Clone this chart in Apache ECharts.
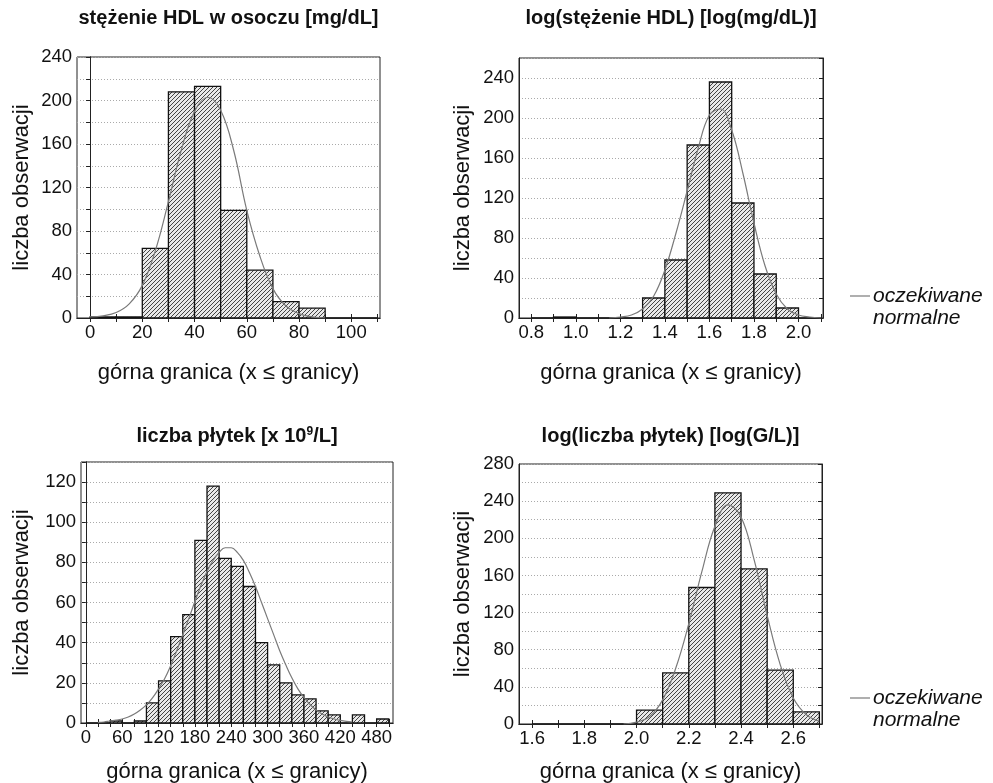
<!DOCTYPE html>
<html><head><meta charset="utf-8">
<script src="https://cdn.jsdelivr.net/npm/echarts@6/dist/echarts.min.js"></script>
<style>html,body{margin:0;padding:0;background:#fff}#c{width:993px;height:783px}</style>
</head><body><div id="c"></div><script>
// ---------- data ----------
// Panel 1: stężenie HDL
const hdlBinStart = [0,10,20,30,40,50,60,70,80,90,100];
const hdlBinWidth = 10;
const hdlCounts = [1,1,64,208,213,99,44,15,9,0,0];
const hdlCurveX = [0,5,10,15,20,25,30,35,40,45,50,55,60,65,70,75,80,85,90];
const hdlCurveY = [1,2,5,13,30,62,107,155,190,203,191,154,99,57,27,11,4,1,0];
const hdlXLabels = [0,20,40,60,80,100];
const hdlXTicks = [0,10,20,30,40,50,60,70,80,90,100,110];
const hdlYLabels = [0,40,80,120,160,200,240];

// Panel 2: log(stężenie HDL)
const lhdlBinStart = [0.8,0.9,1.0,1.1,1.2,1.3,1.4,1.5,1.6,1.7,1.8,1.9,2.0];
const lhdlBinWidth = 0.1;
const lhdlCounts = [0,1,0,0,0,20,58,173,236,115,44,10,0];
const lhdlCurveX = [1.15,1.2,1.25,1.3,1.35,1.4,1.45,1.5,1.55,1.6,1.65,1.7,1.75,1.8,1.85,1.9,1.95,2.0,2.05,2.1];
const lhdlCurveY = [0,1,3,9,22,48,85,127,170,203,209,188,145,95,52,24,9,3,1,0];
const lhdlXLabels = [0.8,1.0,1.2,1.4,1.6,1.8,2.0];
const lhdlXTicks = [0.8,0.9,1.0,1.1,1.2,1.3,1.4,1.5,1.6,1.7,1.8,1.9,2.0,2.1];
const lhdlYLabels = [0,40,80,120,160,200,240];

// Panel 3: liczba płytek
const pltBinStart = [0,20,40,60,80,100,120,140,160,180,200,220,240,260,280,300,320,340,360,380,400,420,440,460,480];
const pltBinWidth = 20;
const pltCounts = [0,0,1,0,1,10,21,43,54,91,118,82,78,68,40,29,20,14,12,6,4,0,4,0,2];
const pltCurveX = [20,30,40,50,60,70,80,90,100,110,120,130,140,150,160,170,180,190,200,210,220,230,240,250,260,270,280,290,300,310,320,330,340,350,360,370,380,390,400,410,420,430,440];
const pltCurveY = [0.3,0.5,1,1.4,2,3,4.5,6.5,9,12.5,17,22,28.5,36,44,52,60.5,68.5,75.5,81,85,87.3,87.3,85,81,75,68,60,52,44,36,29,22.5,17,12.7,9.2,6.5,4.5,3,2,1.3,0.8,0.5];
const pltXLabels = [0,60,120,180,240,300,360,420,480];
const pltXTicks = [0,20,40,60,80,100,120,140,160,180,200,220,240,260,280,300,320,340,360,380,400,420,440,460,480,500];
const pltYLabels = [0,20,40,60,80,100,120];

// Panel 4: log(liczba płytek)
const lpltBinStart = [1.6,1.7,1.8,1.9,2.0,2.1,2.2,2.3,2.4,2.5,2.6];
const lpltBinWidth = 0.1;
const lpltCounts = [0,0,0,0,15,55,147,249,167,58,13];
const lpltCurveX = [1.95,2.0,2.05,2.1,2.15,2.2,2.25,2.3,2.35,2.4,2.45,2.5,2.55,2.6,2.65,2.7];
const lpltCurveY = [0,2,8,26,60,108,164,213,236,223,177,117,64,28,10,3];
const lpltXLabels = [1.6,1.8,2.0,2.2,2.4,2.6];
const lpltXTicks = [1.6,1.7,1.8,1.9,2.0,2.1,2.2,2.3,2.4,2.5,2.6,2.7];
const lpltYLabels = [0,40,80,120,160,200,240,280];

const titles = ['stężenie HDL w osoczu [mg/dL]','log(stężenie HDL) [log(mg/dL)]','liczba płytek [x 10{s|9}/L]','log(liczba płytek) [log(G/L)]'];
const xName = 'górna granica (x ≤ granicy)';
const yName = 'liczba obserwacji';
const legendLines = ['oczekiwane','normalne'];

// ---------- styling / layout ----------
const FONT = '"Liberation Sans", Arial, sans-serif';
const hatchCanvas = document.createElement('canvas');
hatchCanvas.width = 4; hatchCanvas.height = 4;
(function(){
  const c = hatchCanvas.getContext('2d');
  c.fillStyle = '#e8e8e8'; c.fillRect(0,0,4,4);
  c.fillStyle = '#444';
  for (let i = 0; i < 4; i++) c.fillRect(i, 3 - i, 1, 1);
})();
const hatch = {image: hatchCanvas, repeat: 'repeat'};

const panels = [
  {grid:{left:77,top:57,width:303,height:261}, xmin:-5, xmax:111, ymax:240, yint:20,
   starts:hdlBinStart, bw:hdlBinWidth, counts:hdlCounts, cx:hdlCurveX, cy:hdlCurveY,
   xl:hdlXLabels, xt:hdlXTicks, yl:hdlYLabels, fmt:v=>String(v)},
  {grid:{left:519,top:58,width:304,height:260}, xmin:0.745, xmax:2.11, ymax:260, yint:20,
   starts:lhdlBinStart, bw:lhdlBinWidth, counts:lhdlCounts, cx:lhdlCurveX, cy:lhdlCurveY,
   xl:lhdlXLabels, xt:lhdlXTicks, yl:lhdlYLabels, fmt:v=>Number(v).toFixed(1)},
  {grid:{left:81,top:462,width:312,height:261}, xmin:-8, xmax:507, ymax:130, yint:10,
   starts:pltBinStart, bw:pltBinWidth, counts:pltCounts, cx:pltCurveX, cy:pltCurveY,
   xl:pltXLabels, xt:pltXTicks, yl:pltYLabels, fmt:v=>String(v)},
  {grid:{left:519,top:464,width:303,height:260}, xmin:1.55, xmax:2.71, ymax:280, yint:20,
   starts:lpltBinStart, bw:lpltBinWidth, counts:lpltCounts, cx:lpltCurveX, cy:lpltCurveY,
   xl:lpltXLabels, xt:lpltXTicks, yl:lpltYLabels, fmt:v=>Number(v).toFixed(1)}
];

const option = {animation:false, backgroundColor:'#fff', grid:[], xAxis:[], yAxis:[], series:[], graphic:[]};
panels.forEach((p, i) => {
  option.grid.push(Object.assign({show:true, borderColor:'#222', borderWidth:1, backgroundColor:'#fff'}, p.grid));
  const axLine = {show:true, lineStyle:{color:'#222', width:1}};
  option.xAxis.push({gridIndex:i, type:'value', min:p.xmin, max:p.xmax, position:'bottom',
    axisLine:axLine, splitLine:{show:false},
    axisTick:{show:true, inside:true, length:4, customValues:p.xt, lineStyle:{color:'#222'}},
    axisLabel:{customValues:p.xl, formatter:p.fmt, fontSize:18.5, color:'#111', fontFamily:FONT, margin:5}});
  option.xAxis.push({gridIndex:i, type:'value', min:p.xmin, max:p.xmax, position:'top',
    axisLine:axLine, splitLine:{show:false},
    axisTick:{show:true, inside:true, length:4, customValues:p.xt, lineStyle:{color:'#222'}},
    axisLabel:{show:false}});
  option.yAxis.push({gridIndex:i, type:'value', min:0, max:p.ymax, interval:p.yint, position:'left',
    axisLine:axLine,
    splitLine:{show:true, lineStyle:{type:[1,2], color:'#aaa', width:1}},
    axisTick:{show:false},
    axisLabel:{customValues:p.yl, fontSize:18.5, color:'#111', fontFamily:FONT, margin:5}});
  option.yAxis.push({gridIndex:i, type:'value', min:0, max:p.ymax, interval:p.yint, position:'right',
    axisLine:axLine, splitLine:{show:false},
    axisTick:{show:true, inside:true, length:4, lineStyle:{color:'#222'}},
    axisLabel:{show:false}});
  const xi = i*2, yi = i*2;
  option.series.push({
    type:'custom', xAxisIndex:xi, yAxisIndex:yi, clip:true,
    data:p.starts.map((s,k)=>[s, s + p.bw, p.counts[k]]),
    encode:{x:[0,1], y:2},
    renderItem:function(params, api){
      const a = api.coord([api.value(0), api.value(2)]);
      const b = api.coord([api.value(1), 0]);
      return {type:'rect', shape:{x:a[0], y:a[1], width:b[0]-a[0], height:b[1]-a[1]},
        style:{fill:hatch, stroke:'#111', lineWidth:1.3}};
    }
  });
  option.series.push({
    type:'line', xAxisIndex:xi, yAxisIndex:yi, smooth:0.4, symbol:'none',
    data:p.cx.map((x,k)=>[x, p.cy[k]]),
    lineStyle:{color:'#7a7a7a', width:1.2}, z:5
  });
  const g = p.grid;
  const cxm = g.left + g.width/2;
  option.graphic.push({type:'text', x:cxm, y:(i<2?18:436),
    style:{text:titles[i], textAlign:'center', textVerticalAlign:'middle', font:'bold 20px '+FONT, fill:'#111',
      rich:{s:{fontSize:12, fontWeight:'bold', fontFamily:FONT, verticalAlign:'top', lineHeight:12}}}});
  option.graphic.push({type:'text', x:cxm, y:(i<2?373:772),
    style:{text:xName, textAlign:'center', textVerticalAlign:'middle', font:'22px '+FONT, fill:'#111'}});
  option.graphic.push({type:'text', x:(i%2===0?22:463), y:g.top + g.height/2, rotation:Math.PI/2,
    style:{text:yName, textAlign:'center', textVerticalAlign:'middle', font:'22px '+FONT, fill:'#111'}});
});
[296, 698].forEach(y => {
  option.graphic.push({type:'line', shape:{x1:850, y1:y, x2:870, y2:y}, style:{stroke:'#7a7a7a', lineWidth:1.2}});
  option.graphic.push({type:'text', x:873, y:y, style:{text:legendLines[0], textAlign:'left', textVerticalAlign:'middle', font:'italic 21px '+FONT, fill:'#111'}});
  option.graphic.push({type:'text', x:873, y:y+22, style:{text:legendLines[1], textAlign:'left', textVerticalAlign:'middle', font:'italic 21px '+FONT, fill:'#111'}});
});

const chart = echarts.init(document.getElementById('c'), null, {renderer:'canvas'});
chart.setOption(option);
</script></body></html>
